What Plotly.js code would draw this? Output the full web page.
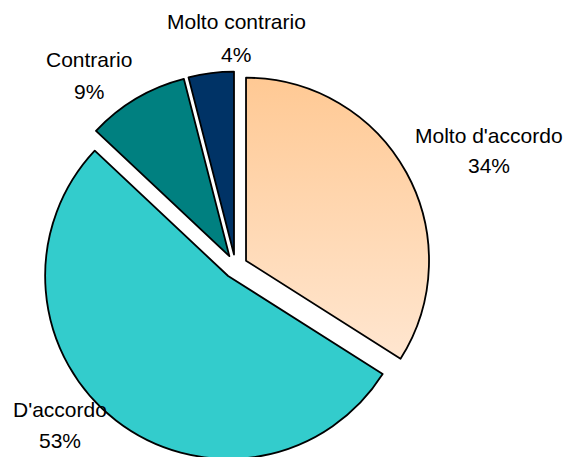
<!DOCTYPE html>
<html>
<head>
<meta charset="utf-8">
<script src="https://cdn.plot.ly/plotly-3.0.1.min.js"></script>
<style>
html, body { margin: 0; padding: 0; overflow: hidden; background: #fff; }
#chart { width: 573px; height: 470px; }
</style>
</head>
<body>
<div id="chart"></div>
<script>
// Data
var categories = ["Molto d'accordo", "D'accordo", "Contrario", "Molto contrario"];
var values = [34, 53, 9, 4];
var percentLabels = ["34%", "53%", "9%", "4%"];
var sliceColors = ["#FFD3A8", "#33CCCC", "#008080", "#003366"];

var W = 573, H = 470;
function px(x) { return x / W; }
function py(y) { return (H - y) / H; }

// label placement (pixel centres) for name line and percent line
var labelPos = [
  {x: 489, y1: 135, y2: 166},
  {x: 60,  y1: 409, y2: 440},
  {x: 89,  y1: 59,  y2: 91},
  {x: 236, y1: 22,  y2: 54}
];

var annotations = [];
for (var i = 0; i < categories.length; i++) {
  var f = {family: 'Liberation Sans, Arial, sans-serif', size: 21, color: '#000'};
  annotations.push({x: px(labelPos[i].x), y: py(labelPos[i].y1), xref: 'paper', yref: 'paper',
    text: categories[i], showarrow: false, xanchor: 'center', yanchor: 'middle', font: f});
  annotations.push({x: px(labelPos[i].x), y: py(labelPos[i].y2), xref: 'paper', yref: 'paper',
    text: percentLabels[i], showarrow: false, xanchor: 'center', yanchor: 'middle', font: f});
}

var trace = {
  type: 'pie',
  labels: categories,
  values: values,
  sort: false,
  direction: 'clockwise',
  rotation: 0,
  pull: [0.0656, 0.0656, 0.0656, 0.0656],
  marker: {colors: sliceColors, line: {color: '#000', width: 1.8}},
  textinfo: 'none',
  hoverinfo: 'none',
  showlegend: false,
  domain: {x: [px(40.5), px(430.5)], y: [py(461.5), py(71.5)]}
};

var layout = {
  width: W, height: H,
  margin: {l: 0, r: 0, t: 0, b: 0},
  paper_bgcolor: '#fff',
  showlegend: false,
  annotations: annotations
};

Plotly.newPlot('chart', [trace], layout, {staticPlot: true, displayModeBar: false}).then(function (gd) {
  var svg = gd.querySelector('svg.main-svg');
  var ns = 'http://www.w3.org/2000/svg';
  var defs = svg.querySelector('defs') || svg.insertBefore(document.createElementNS(ns, 'defs'), svg.firstChild);
  var grad = document.createElementNS(ns, 'linearGradient');
  grad.setAttribute('id', 'peachGrad');
  grad.setAttribute('x1', '0'); grad.setAttribute('y1', '0');
  grad.setAttribute('x2', '0'); grad.setAttribute('y2', '1');
  var s1 = document.createElementNS(ns, 'stop');
  s1.setAttribute('offset', '0'); s1.setAttribute('stop-color', '#FFC994');
  var s2 = document.createElementNS(ns, 'stop');
  s2.setAttribute('offset', '1'); s2.setAttribute('stop-color', '#FFE6D0');
  grad.appendChild(s1); grad.appendChild(s2);
  defs.appendChild(grad);
  var paths = gd.querySelectorAll('g.slice path.surface');
  if (paths.length) paths[0].style.fill = 'url(#peachGrad)';
});
</script>
</body>
</html>
